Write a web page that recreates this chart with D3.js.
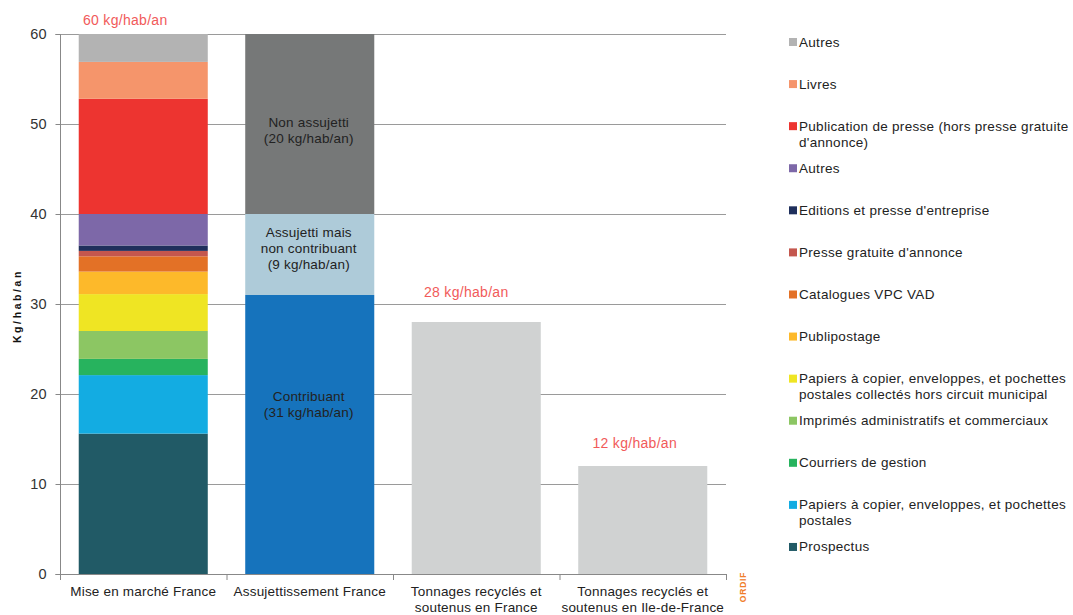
<!DOCTYPE html>
<html>
<head>
<meta charset="utf-8">
<script src="https://cdn.jsdelivr.net/npm/d3@7"></script>
<style>
  html, body { margin: 0; padding: 0; background: #fff; }
  svg { display: block; font-family: "Liberation Sans", Arial, sans-serif; }
</style>
</head>
<body>
<svg id="chart" width="1073" height="615"></svg>
<script>
// Categories along the x axis (each label may wrap on two lines)
const categories = [
  ["Mise en marché France"],
  ["Assujettissement France"],
  ["Tonnages recyclés et", "soutenus en France"],
  ["Tonnages recyclés et", "soutenus en Ile-de-France"]
];

// Composition of the paper put on the market (bottom to top), kg/hab/an
const marketNames = [
  "Prospectus",
  "Papiers à copier, enveloppes, et pochettes postales",
  "Courriers de gestion",
  "Imprimés administratifs et commerciaux",
  "Papiers à copier, enveloppes, et pochettes postales collectés hors circuit municipal",
  "Publipostage",
  "Catalogues VPC VAD",
  "Presse gratuite d'annonce",
  "Editions et presse d'entreprise",
  "Autres",
  "Publication de presse (hors presse gratuite d'annonce)",
  "Livres",
  "Autres"
];
const marketValues = [15.6, 6.5, 1.8, 3.1, 4.1, 2.5, 1.7, 0.6, 0.6, 3.5, 12.8, 4.1, 3.1];
const marketColors = ["#215a66", "#13ace2", "#27b35e", "#8cc663", "#efe523", "#fdb92a",
  "#e37126", "#c4574e", "#1f2f5c", "#7d68a8", "#ed3430", "#f5956b", "#b3b3b3"];

// Legend lines (manually wrapped), top to bottom
const legendLines = [
  ["Autres"],
  ["Livres"],
  ["Publication de presse (hors presse gratuite", "d'annonce)"],
  ["Autres"],
  ["Editions et presse d'entreprise"],
  ["Presse gratuite d'annonce"],
  ["Catalogues VPC VAD"],
  ["Publipostage"],
  ["Papiers à copier, enveloppes, et pochettes", "postales collectés hors circuit municipal"],
  ["Imprimés administratifs et commerciaux"],
  ["Courriers de gestion"],
  ["Papiers à copier, enveloppes, et pochettes", "postales"],
  ["Prospectus"]
];

// Obligation split (bottom to top), kg/hab/an
const obligationLabels = [
  ["Contribuant", "(31 kg/hab/an)"],
  ["Assujetti mais", "non contribuant", "(9 kg/hab/an)"],
  ["Non assujetti", "(20 kg/hab/an)"]
];
const obligationValues = [31, 9, 20];
const obligationColors = ["#1673bc", "#aecbd9", "#767878"];

// Recycled tonnages
const recycledValues = [28, 12];

// Totals written above the bars
const totalLabels = ["60 kg/hab/an", "28 kg/hab/an", "12 kg/hab/an"];
const totalValues = [60, 28, 12];
const totalCats = [0, 2, 3];

const yTicks = [0, 10, 20, 30, 40, 50, 60];

const svg = d3.select("#chart");
const plotL = 60, plotR = 726, plotT = 34, plotB = 574;

const x = d3.scaleBand().domain(d3.range(categories.length)).range([plotL, plotR])
  .paddingInner(0.225).paddingOuter(0.1125);
const step = x.step();
const y = d3.scaleLinear().domain([0, 60]).range([plotB, plotT]);

// Grid
svg.append("g").selectAll("line").data(yTicks.filter(d => d > 0)).join("line")
  .attr("x1", plotL).attr("x2", plotR)
  .attr("y1", d => y(d) + 0.5).attr("y2", d => y(d) + 0.5)
  .attr("stroke", "#9a9a9a").attr("stroke-width", 1);

// Stacked bar 1
function stackSegments(values) {
  let acc = 0;
  return values.map((v, i) => { const s = { i, y0: acc, y1: acc + v }; acc += v; return s; });
}
svg.append("g").selectAll("rect").data(stackSegments(marketValues)).join("rect")
  .attr("x", x(0)).attr("width", x.bandwidth())
  .attr("y", d => y(d.y1)).attr("height", d => y(d.y0) - y(d.y1))
  .attr("fill", d => marketColors[d.i]);

// Stacked bar 2
const ob = stackSegments(obligationValues);
svg.append("g").selectAll("rect").data(ob).join("rect")
  .attr("x", x(1)).attr("width", x.bandwidth())
  .attr("y", d => y(d.y1)).attr("height", d => y(d.y0) - y(d.y1))
  .attr("fill", d => obligationColors[d.i]);

// Inner labels of bar 2
const innerY = [396, 232, 122];
ob.forEach((d, k) => {
  const t = svg.append("text").attr("text-anchor", "middle")
    .attr("font-size", 13.5).attr("letter-spacing", 0.2).attr("fill", "#222");
  obligationLabels[k].forEach((line, j) => {
    t.append("tspan").attr("x", x(1) + x.bandwidth() / 2 - 1)
      .attr("y", innerY[k] + 5 + j * 16).text(line);
  });
});

// Recycled bars
svg.append("g").selectAll("rect").data(recycledValues).join("rect")
  .attr("x", (d, i) => x(i + 2)).attr("width", x.bandwidth())
  .attr("y", d => y(d)).attr("height", d => y(0) - y(d))
  .attr("fill", "#d0d2d2");

// Totals above bars
const totalOffsets = [9, 25, 18];
const totalShift = [-18, -10, -8];
svg.append("g").selectAll("text").data(totalValues).join("text")
  .attr("x", (d, i) => x(totalCats[i]) + x.bandwidth() / 2 + totalShift[i])
  .attr("y", (d, i) => y(d) - totalOffsets[i])
  .attr("text-anchor", "middle").attr("font-size", 14).attr("letter-spacing", 0.3)
  .attr("fill", "#f15a5a")
  .text((d, i) => totalLabels[i]);

// Y axis
const yAxis = svg.append("g").attr("transform", `translate(${plotL + 0.5},0)`)
  .call(d3.axisLeft(y).tickValues(yTicks).tickSize(5).tickPadding(9));
yAxis.select(".domain").attr("stroke", "#888").attr("d", `M-5,${plotT + 0.5}H0V${plotB + 0.5}H-5`);
yAxis.selectAll(".tick line").attr("stroke", "#888");
yAxis.selectAll(".tick text").attr("font-size", 14.5).attr("fill", "#333")
  .attr("font-family", "'Liberation Sans', Arial, sans-serif");

// X axis line and boundary ticks
svg.append("line").attr("x1", plotL).attr("x2", plotR)
  .attr("y1", plotB + 0.5).attr("y2", plotB + 0.5).attr("stroke", "#888");
svg.append("g").selectAll("line").data(d3.range(categories.length + 1)).join("line")
  .attr("x1", d => plotL + d * step + 0.5).attr("x2", d => plotL + d * step + 0.5)
  .attr("y1", plotB).attr("y2", plotB + 6).attr("stroke", "#888");

// Category labels
categories.forEach((lines, i) => {
  const t = svg.append("text").attr("text-anchor", "middle")
    .attr("font-size", 13.5).attr("letter-spacing", 0.2).attr("fill", "#222");
  lines.forEach((line, j) => {
    t.append("tspan").attr("x", x(i) + x.bandwidth() / 2)
      .attr("y", 596 + j * 16).text(line);
  });
});

// Y axis title
svg.append("text").attr("transform", "translate(21,306) rotate(-90)")
  .attr("text-anchor", "middle").attr("font-size", 10.5).attr("font-weight", "bold")
  .attr("letter-spacing", 2.6).attr("fill", "#111").text("Kg/hab/an");

// Source tag
svg.append("text").attr("transform", "translate(746,587) rotate(-90)")
  .attr("text-anchor", "middle").attr("font-size", 8.5).attr("font-weight", "bold")
  .attr("letter-spacing", 0.8).attr("fill", "#f07d2a").text("ORDIF");

// Legend
const legendColors = marketColors.slice().reverse();
const lg = svg.append("g");
legendLines.forEach((lines, i) => {
  const cy = 42 + i * 42.08;
  lg.append("rect").attr("x", 789).attr("y", cy - 4).attr("width", 8).attr("height", 8)
    .attr("fill", legendColors[i]);
  const t = lg.append("text").attr("font-size", 13.5).attr("letter-spacing", 0.3)
    .attr("fill", "#222");
  lines.forEach((line, j) => {
    t.append("tspan").attr("x", 799).attr("y", cy + 4.5 + j * 16).text(line);
  });
});
</script>
</body>
</html>
